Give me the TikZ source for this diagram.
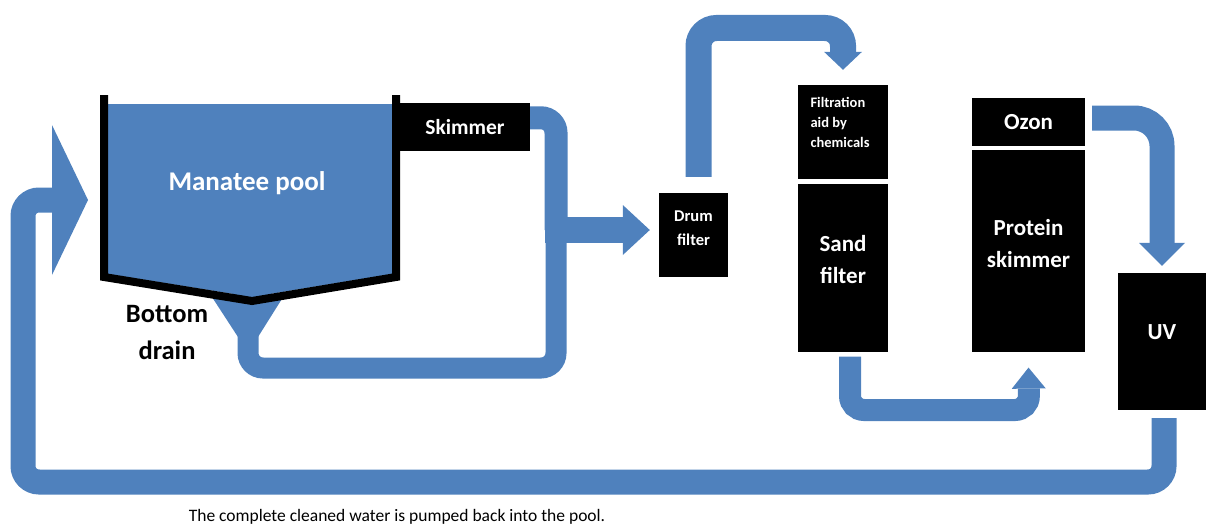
\documentclass[tikz,border=0pt]{standalone}
\usepackage{fontspec}
\setmainfont{Carlito}
\usetikzlibrary{positioning, arrows.meta}
\definecolor{pipeblue}{HTML}{4F81BD}
\tikzset{
  pipe/.style={draw=pipeblue, line width=23pt, rounded corners=15pt},
  poolwall/.style={draw=black, line width=8pt, line join=miter},
  unit/.style={fill=black, inner sep=0pt},
  unittext/.style={text=white, align=center, font=\bfseries\fontsize{23}{32}\selectfont},
  smalltext/.style={unittext, font=\bfseries\fontsize{16.5}{24}\selectfont},
  tinytext/.style={unittext, align=left, font=\bfseries\fontsize{14.5}{20}\selectfont},
  pooltext/.style={text=white, font=\bfseries\fontsize{27}{30}\selectfont},
  draintext/.style={align=center, font=\bfseries\fontsize{26.5}{37}\selectfont},
  captiontext/.style={font=\fontsize{17.5}{20}\selectfont},
}

\begin{document}
\begin{tikzpicture}[x=1pt, y=-1pt]
  \useasboundingbox (0,0) rectangle (1206,527);

  % pool
  \fill[pipeblue] (108,104) -- (392,104) -- (392,274) -- (252,297) -- (108,274) -- cycle;
  \fill[pipeblue] (210,294) -- (285,294) -- (258,337) -- (238,337) -- cycle;
  \coordinate (outlet) at (248,330);
  \coordinate (inlet) at (88,200);

  % units
  \node[unit, minimum width=130pt, minimum height=48pt] (skimmer) at (465,127) {};
  \node[unit, minimum width=69pt, minimum height=84pt] (drum) at (693.5,235) {};
  \node[unit, minimum width=90pt, minimum height=94pt] (filt) at (843,132) {};
  \node[unit, minimum width=90pt, minimum height=168pt, below=5pt of filt] (sand) {};
  \node[unit, minimum width=113pt, minimum height=48pt] (ozon) at (1028.5,122) {};
  \node[unit, minimum width=113pt, minimum height=202pt, below=4pt of ozon] (prot) {};
  \node[unit, minimum width=88pt, minimum height=137pt] (uv) at (1162,341.5) {};

  % water flow
  \draw[pipe] (skimmer.north east) ++(0,15) -| (556,230);
  \draw[pipe, line width=21pt] (outlet) |- (556,368) -- (556,230);
  \draw[pipe, line width=26pt, -{Triangle[length=27pt, width=50pt, line width=0pt]}]
    (545,230) -- ([xshift=-9pt]drum.west |- 545,230);
  \draw[pipe, line width=26pt, rounded corners=18pt, -{Triangle[length=18pt, width=38pt, line width=0pt]}]
    ([xshift=5pt, yshift=16pt]drum.north) |- (843,28) -- ([yshift=15pt]filt.north);
  \draw[pipe, line width=22pt, rounded corners=14pt, -{Triangle[length=21pt, width=34pt, line width=0pt]}]
    ([xshift=7pt, yshift=-4pt]sand.south) |- (1029,410) -- ([yshift=-15pt]prot.south);
  \draw[pipe, line width=25pt, rounded corners=28pt, -{Triangle[length=23pt, width=46pt, line width=0pt]}]
    ([xshift=7pt, yshift=4pt]ozon.east) -| ([yshift=7pt]uv.north);
  \draw[pipe, line width=25pt, rounded corners=16pt, -{Triangle[length=36pt, width=150pt, line width=0pt]}]
    ([xshift=2pt, yshift=-8pt]uv.south) |- (23,482) |- (inlet);

  % pool walls and labels
  \draw[poolwall] (104,95) -- (104,277) -- (252,301) -- (396,277) -- (396,95);
  \node[pooltext] (pool) at (247,183) {Manatee pool};
  \node[draintext] (drain) at (167,333) {Bottom\\drain};

  % unit labels
  \node[unittext, font=\bfseries\fontsize{21.5}{26}\selectfont] at (skimmer.center) {Skimmer};
  \node[smalltext] at ([yshift=7pt]drum.center) {Drum\\filter};
  \node[tinytext, anchor=north west] at (807,94) {Filtration\\aid by\\chemicals};
  \node[unittext] at ([yshift=9pt]sand.center) {Sand\\filter};
  \node[unittext] at (ozon.center) {Ozon};
  \node[unittext] at ([yshift=8pt]prot.center) {Protein\\skimmer};
  \node[unittext] at ([yshift=9pt]uv.center) {UV};

  \node[captiontext] (caption) at (397,517) {The complete cleaned water is pumped back into the pool.};
\end{tikzpicture}
\end{document}
